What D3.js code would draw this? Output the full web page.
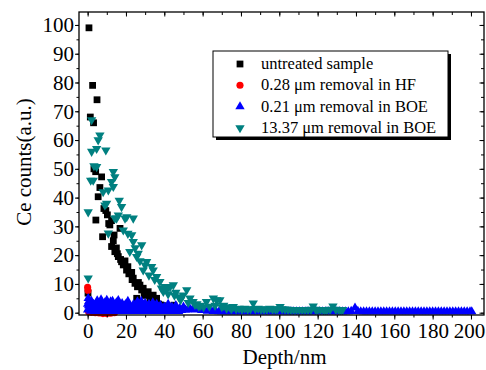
<!DOCTYPE html>
<html>
<head>
<meta charset="utf-8">
<script src="https://cdn.jsdelivr.net/npm/d3@7"></script>
<style>
  body { margin: 0; background: #fff; }
  svg { display: block; }
</style>
</head>
<body>
<script>
// depth (nm), Ce counts (a.u.)
const untreated = [
  [0.2, 6.8], [0.7, 99], [1.4, 68], [2.6, 79], [3.1, 66], [3.3, 50], [4.2, 49],
  [4.3, 32.2], [4.9, 74], [5.5, 40.3], [6.4, 43.5], [7.3, 47.2], [7.8, 26.4],
  [8.5, 36.2], [9.5, 35.5], [10.3, 34], [11, 31], [11.6, 30.5], [12.5, 32],
  [12.5, 23], [13.4, 25], [13.8, 27], [14.2, 21.2], [15, 22.5], [15.5, 20.5],
  [16, 19.5], [16.9, 29.3], [17.2, 18.5], [17.7, 17.7], [18.6, 16.6], [19.5, 18],
  [20.3, 14.8], [21, 16], [21.5, 13.5], [22, 13.7], [23, 14], [23.2, 11.5],
  [23.8, 12], [24.7, 10.2], [25.6, 5], [26, 9], [26.5, 10.5], [27.3, 9.6],
  [28.2, 7.9], [29, 8.5], [29.5, 6], [30.4, 6.7], [31.6, 7.3], [32.5, 5],
  [33, 4.5], [34.2, 6.1], [35, 3.3], [36, 5], [37, 3], [38, 2.7], [39, 2.5],
  [40, 2], [41.5, 1.8], [43, 1.5], [45, 2.6], [46.5, 1.2], [48, 1]
];

const hfRemoval = [
  [0, 8.8], [0.2, 7.7], [0.5, 0.3], [2, 0.1], [4, 0], [6, -0.1], [8, -0.3],
  [10, -0.3], [12, -0.2], [14, 0]
];

const boeThin = [
  [0, 1], [0, 3], [0.3, 5], [0.6, 4], [1, 2], [2, 4], [3, 3], [4, 1.5], [5, 4.2],
  [6, 3], [7, 4.5], [8, 2], [9, 3.5], [10, 4.4], [11, 2.5], [12, 3.8], [13, 4],
  [14, 2], [15, 3.5], [16, 4.3], [17, 2.5], [18, 3.2], [19, 1.5], [20, 3], [21, 4],
  [22, 2], [23, 1.2], [24, 3], [25, 2.5], [26, 3.8], [27, 2], [28, 4], [29, 2.5],
  [30, 3.3], [31, 2], [32, 3], [33, 2], [34, 3.5], [35, 2], [36, 3], [37, 1.8],
  [38, 2.5], [39, 1.5], [40, 2], [41, 1.2], [42, 3], [43, 1.5], [44, 2], [45, 1],
  [46, 2.5], [47, 1.2], [48, 1.5], [49, 0.8], [50, 2], [51, 1], [52, 1], [53.5, 1.2],
  [55, 1.5], [56.5, 1], [58, 1.5], [59.5, 0.8], [61, 1], [62.5, 0.6], [64, 0.8],
  [0.5, 2.5], [1.5, 3.2], [2.5, 1.8], [3.5, 2.6], [4.5, 3.2], [5.5, 1.8],
  [6.5, 2.2], [7.5, 3], [8.5, 1.7], [9.5, 2.4], [10.5, 3.1], [11.5, 1.7],
  [12.5, 2.5], [13.5, 2.8], [14.5, 1.6], [15.5, 2.2], [16.5, 3], [17.5, 1.6],
  [18.5, 2.3], [19.5, 2.6], [20.5, 1.8], [21.5, 2.8], [22.5, 1.5], [24.5, 1.9],
  [25.5, 1.4], [26.5, 2.4], [27.5, 1.5], [28.5, 2.7], [29.5, 1.7], [30.5, 2.3],
  [31.5, 1.3], [32.5, 2.1], [33.5, 1.4], [34.5, 2.5], [35.5, 1.3], [36.5, 2.2],
  [1.5, 0.6], [3.5, 0.5], [5.5, 0.6], [7.5, 0.5], [9.5, 0.6], [11.5, 0.5],
  [13.5, 0.6], [15.5, 0.5], [17.5, 0.6], [19.5, 0.5], [21.5, 0.6], [23.5, 0.5],
  [25.5, 0.6], [27.5, 0.5], [29.5, 0.6], [31.5, 0.5], [33.5, 0.6], [35.5, 0.5],
  [37.5, 0.6], [39.5, 0.5], [41.5, 0.6], [43.5, 0.5], [45.5, 0.6], [47.5, 0.5],
  [65.5, 0.5], [67, 0.5], [68.5, 0.4], [70, 0.4], [71.5, 0.4], [73, 0.4],
  [74.5, 0.4], [76, 0.4], [77.5, 0.4], [79, 0.4], [80.5, 0.4], [82, 0.4],
  [83.5, 0.4], [85, 0.4], [86.5, 0.4], [88, 0.4], [89.5, 0.4], [91, 0.4],
  [92.5, 0.4], [94, 0.4], [95.5, 0.4], [97, 0.4], [98.5, 0.4], [100, 0.4],
  [101.5, 0.4], [103, 0.4], [104.5, 0.4], [106, 0.4], [107.5, 0.4], [109, 0.4],
  [110.5, 0.4], [112, 0.4], [113.5, 0.4], [115, 0.4], [116.5, 0.4], [118, 0.4],
  [119.5, 0.4], [121, 0.4], [122.5, 0.4], [124, 0.4], [125.5, 0.4], [127, 0.4],
  [128.5, 0.4], [130, 0.4], [131.5, 0.4], [133, 0.4], [134.5, 0.4], [136, 0.4],
  [137.5, 0.5], [139.5, 1.7], [141, 0.5], [142.5, 0.4], [144, 0.4], [145.5, 0.4],
  [147, 0.4], [148.5, 0.4], [150, 0.4], [151.5, 0.4], [153, 0.4], [154.5, 0.4],
  [156, 0.4], [157.5, 0.4], [159, 0.4], [160.5, 0.4], [162, 0.4], [163.5, 0.4],
  [165, 0.4], [166.5, 0.4], [168, 0.4], [169.5, 0.4], [171, 0.4], [172.5, 0.4],
  [174, 0.4], [175.5, 0.4], [177, 0.4], [178.5, 0.4], [180, 0.4], [181.5, 0.4],
  [183, 0.4], [184.5, 0.4], [186, 0.4], [187.5, 0.4], [189, 0.4], [190.5, 0.4],
  [192, 0.4], [193.5, 0.4], [195, 0.4], [196.5, 0.4], [198, 0.4], [199.5, 0.4],
  [200.4, 0.4]
];

const boeThick = [
  [0.3, 12], [0.3, 35], [1.6, 46], [2.1, 56], [2.1, 67], [2.9, 46], [3.3, 51],
  [4.7, 57], [4.7, 50.7], [5.5, 60], [6.4, 61.7], [8.1, 42], [9, 37.4],
  [9.5, 56.5], [9.9, 38], [10.8, 42.6], [10.8, 27.6], [12.5, 45.5], [13.4, 49],
  [13.4, 43.8], [14.2, 47.2], [14.2, 32.8], [15.1, 32.8], [16, 33.9], [16.5, 39],
  [17.7, 36.8], [18.6, 28.7], [19.5, 32.8], [20.4, 33.3], [21, 27.5], [22, 21.2],
  [23, 27], [23.8, 32.8], [23.8, 24.7], [24.8, 22.5], [25.6, 19.5], [26.4, 20.6],
  [27.3, 18], [28.2, 23.5], [29, 14.8], [30, 16.5], [30.8, 17.7], [32, 13],
  [33.4, 16], [34.2, 14.8], [35, 11.5], [36, 12.5], [37.7, 10.8], [38.5, 8.5],
  [39.5, 7.3], [40.3, 9], [41.2, 8], [42, 6.5], [43, 9], [44.7, 9.6], [45.3, 6],
  [46, 7], [47.5, 5.5], [48.5, 4.5], [49.9, 6.1], [51.7, 7.9], [52.5, 3.5],
  [53.4, 5], [55, 3.8], [56, 2.8], [57, 3], [58, 2.2], [59, 2.5], [60.5, 2],
  [62, 3.8], [63.5, 2.2], [65.6, 5], [66.5, 2.5], [67.3, 4.4], [69, 4.4],
  [70, 2], [71, 2.5], [72.5, 1.5], [74, 2], [75, 1.3], [76, 2.1], [77.5, 1.3],
  [79, 1.5], [80.5, 1.2], [82, 1.5], [83.5, 1.2], [85, 1.3], [86.4, 3.3],
  [87.5, 1.3], [89, 1.5], [90.5, 1.2], [92, 1.2], [93.5, 1.2], [95, 1.5],
  [96.5, 1.2], [98, 1.2], [99, 1.3], [100.4, 2.1], [101.5, 1.3], [103, 1.2],
  [104.5, 1.1], [106, 1], [107.5, 1], [109, 1], [110.5, 1], [112, 1], [113.5, 1],
  [115, 1], [116.5, 1.1], [117.7, 2.3], [119, 1.1], [120, 1], [121.5, 1],
  [123, 1], [124, 1], [125, 1], [126.5, 1.1], [128, 2.3], [129.5, 1.1], [131, 1],
  [132, 1], [133, 1]
];

const xTicks = [0, 20, 40, 60, 80, 100, 120, 140, 160, 180, 200];
const yTicks = [0, 10, 20, 30, 40, 50, 60, 70, 80, 90, 100];
const seriesNames = [
  "untreated sample",
  "0.28 \u03bcm removal in HF",
  "0.21 \u03bcm removal in BOE",
  "13.37 \u03bcm removal in BOE"
];

const W = 486, H = 370;
const plotLeft = 79, plotRight = 484, plotTop = 12, plotBottom = 315;
const serif = "'Liberation Serif', 'Times New Roman', Times, serif";

const svg = d3.select("body").append("svg")
  .attr("width", W)
  .attr("height", H)
  .attr("font-family", serif);

const x = d3.scaleLinear().domain([-4.5, 206.8]).range([plotLeft, plotRight]);
const y = d3.scaleLinear().domain([-0.8, 104.5]).range([plotBottom, plotTop]);

const series = [
  { name: seriesNames[0], data: untreated, color: "#000000", type: d3.symbolSquare, size: 46, rot: 0 },
  { name: seriesNames[1], data: hfRemoval, color: "#ff0000", type: d3.symbolCircle, size: 40, rot: 0 },
  { name: seriesNames[2], data: boeThin, color: "#0000ff", type: d3.symbolTriangle, size: 38, rot: 0 },
  { name: seriesNames[3], data: boeThick, color: "#008080", type: d3.symbolTriangle, size: 38, rot: 180 }
];

// points
series.forEach(function (s) {
  const sym = d3.symbol().type(s.type).size(s.size);
  svg.append("g")
    .selectAll("path")
    .data(s.data)
    .enter()
    .append("path")
    .attr("d", sym)
    .attr("transform", (d) => "translate(" + x(d[0]) + "," + y(d[1]) + ") rotate(" + s.rot + ")")
    .attr("fill", s.color);
});

// axes
const xMinor = d3.range(0, 201, 10);
const yMinor = d3.range(0, 101, 5);

function styleAxis(g) {
  g.attr("font-family", serif).attr("font-size", 21);
  g.select(".domain").remove();
  g.selectAll("line").attr("stroke", "#000").attr("stroke-width", 1);
  g.selectAll("text").attr("fill", "#000");
}

svg.append("g")
  .attr("transform", "translate(0," + plotBottom + ")")
  .call(d3.axisBottom(x).tickValues(xMinor).tickSize(2.5).tickFormat(""))
  .call(styleAxis);
const xAxisG = svg.append("g")
  .attr("transform", "translate(0," + plotBottom + ")")
  .call(d3.axisBottom(x).tickValues(xTicks).tickSize(4.5).tickPadding(4).tickFormat(d3.format("d")))
  .call(styleAxis);
// last label sits against the right edge of the picture
xAxisG.selectAll("text").filter((d) => d === 200).attr("dx", -2);

svg.append("g")
  .attr("transform", "translate(" + plotLeft + ",0)")
  .call(d3.axisLeft(y).tickValues(yMinor).tickSize(2.5).tickFormat(""))
  .call(styleAxis);
svg.append("g")
  .attr("transform", "translate(" + plotLeft + ",0)")
  .call(d3.axisLeft(y).tickValues(yTicks).tickSize(4).tickPadding(1).tickFormat(d3.format("d")))
  .call(styleAxis);

// mirrored ticks, pointing inward
svg.append("g")
  .attr("transform", "translate(0," + plotTop + ")")
  .call(d3.axisBottom(x).tickValues(xMinor).tickSize(3).tickFormat(""))
  .call(styleAxis);
svg.append("g")
  .attr("transform", "translate(0," + plotTop + ")")
  .call(d3.axisBottom(x).tickValues(xTicks).tickSize(4.5).tickFormat(""))
  .call(styleAxis);
svg.append("g")
  .attr("transform", "translate(" + plotRight + ",0)")
  .call(d3.axisLeft(y).tickValues(yMinor).tickSize(3).tickFormat(""))
  .call(styleAxis);
svg.append("g")
  .attr("transform", "translate(" + plotRight + ",0)")
  .call(d3.axisLeft(y).tickValues(yTicks).tickSize(4.5).tickFormat(""))
  .call(styleAxis);

svg.append("rect")
  .attr("x", plotLeft)
  .attr("y", plotTop)
  .attr("width", plotRight - plotLeft)
  .attr("height", plotBottom - plotTop)
  .attr("fill", "none")
  .attr("stroke", "#000")
  .attr("stroke-width", 1.3);

// titles
svg.append("text")
  .attr("x", (plotLeft + plotRight) / 2 + 3)
  .attr("y", 364)
  .attr("text-anchor", "middle")
  .attr("font-size", 21)
  .text("Depth/nm");

svg.append("text")
  .attr("transform", "translate(31,162) rotate(-90)")
  .attr("text-anchor", "middle")
  .attr("font-size", 21)
  .text("Ce counts(a.u.)");

// legend
const legend = svg.append("g");
legend.append("rect")
  .attr("x", 216)
  .attr("y", 54)
  .attr("width", 235)
  .attr("height", 86)
  .attr("fill", "#000");
legend.append("rect")
  .attr("x", 213)
  .attr("y", 51)
  .attr("width", 235)
  .attr("height", 86)
  .attr("fill", "#fff")
  .attr("stroke", "#000")
  .attr("stroke-width", 1);

series.forEach(function (s, i) {
  const cy = 64 + i * 21.3;
  legend.append("path")
    .attr("d", d3.symbol().type(s.type).size(s.size)())
    .attr("transform", "translate(240," + cy + ") rotate(" + s.rot + ")")
    .attr("fill", s.color);
  legend.append("text")
    .attr("x", 261)
    .attr("y", cy + 5)
    .attr("font-size", 16.5)
    .text(s.name);
});
</script>
</body>
</html>
